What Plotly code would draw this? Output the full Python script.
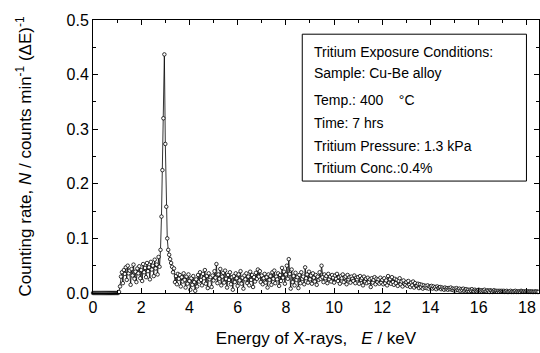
import numpy as np
import plotly.graph_objects as go

# Energy channel grid (keV), 0.04 keV per channel
E_STEP = 0.04

# Counting rate values, one row per keV (25 channels per row)
rate = [
    # 0.00 - 0.96
    0, 0, 0, 0, 0, 0, 0, 0, 0, 0, 0, 0, 0, 0, 0, 0, 0, 0, 0, 0, 0, 0, 0, 0, 0,
    # 1.00 - 1.96
    0, 0, 0.002, 0.012, 0.03, 0.038, 0.018, 0.042, 0.035, 0.047, 0.024, 0.05, 0.036, 0.041, 0.015, 0.044, 0.032, 0.052, 0.026, 0.039, 0.02, 0.045, 0.036, 0.049, 0.027,
    # 2.00 - 2.96
    0.042, 0.022, 0.053, 0.038, 0.046, 0.029, 0.055, 0.04, 0.047, 0.025, 0.057, 0.043, 0.05, 0.031, 0.061, 0.045, 0.052, 0.034, 0.066, 0.048, 0.079, 0.14, 0.225, 0.32, 0.437,
    # 3.00 - 3.96
    0.273, 0.158, 0.10, 0.079, 0.07, 0.062, 0.055, 0.048, 0.038, 0.045, 0.02, 0.031, 0.016, 0.035, 0.026, 0.033, 0.012, 0.029, 0.021, 0.036, 0.024, 0.01, 0.03, 0.017, 0.034,
    # 4.00 - 4.96
    0.022, 0.006, 0.027, 0.015, 0.031, 0.02, 0.004, 0.025, 0.012, 0.033, 0.021, 0.038, 0.024, 0.014, 0.035, 0.027, 0.042, 0.017, 0.031, 0.009, 0.036, 0.025, 0.029, 0.011, 0.032,
    # 5.00 - 5.96
    0.023, 0.04, 0.028, 0.053, 0.018, 0.034, 0.026, 0.044, 0.014, 0.03, 0.037, 0.019, 0.041, 0.026, 0.01, 0.033, 0.024, 0.038, 0.016, 0.029, 0.006, 0.031, 0.02, 0.036, 0.027,
    # 6.00 - 6.96
    0.013, 0.034, 0.023, 0.04, 0.017, 0.028, 0.008, 0.032, 0.025, 0.036, 0.018, 0.03, 0.014, 0.039, 0.024, 0.033, 0.011, 0.029, 0.021, 0.037, 0.026, 0.043, 0.03, 0.04, 0.02,
    # 7.00 - 7.96
    0.032, 0.016, 0.027, 0.035, 0.019, 0.029, 0.01, 0.034, 0.024, 0.031, 0.015, 0.038, 0.026, 0.041, 0.018, 0.03, 0.025, 0.036, 0.013, 0.033, 0.022, 0.046, 0.028, 0.039, 0.017,
    # 8.00 - 8.96
    0.034, 0.05, 0.026, 0.062, 0.035, 0.008, 0.043, 0.02, 0.031, 0.014, 0.037, 0.024, 0.029, 0.009, 0.033, 0.018, 0.038, 0.026, 0.03, 0.016, 0.047, 0.027, 0.034, 0.019, 0.039,
    # 9.00 - 9.96
    0.025, 0.032, 0.017, 0.036, 0.028, 0.021, 0.033, 0.015, 0.03, 0.024, 0.038, 0.026, 0.05, 0.029, 0.02, 0.034, 0.027, 0.031, 0.018, 0.035, 0.025, 0.03, 0.021, 0.033, 0.028,
    # 10.00 - 10.96
    0.019, 0.032, 0.026, 0.035, 0.022, 0.029, 0.017, 0.031, 0.027, 0.034, 0.02, 0.028, 0.03, 0.016, 0.033, 0.025, 0.029, 0.019, 0.03, 0.026, 0.022, 0.032, 0.018, 0.028, 0.025,
    # 11.00 - 11.96
    0.029, 0.017, 0.031, 0.024, 0.027, 0.014, 0.03, 0.021, 0.026, 0.018, 0.028, 0.02, 0.025, 0.011, 0.027, 0.019, 0.024, 0.029, 0.016, 0.026, 0.02, 0.025, 0.017, 0.028, 0.019,
    # 12.00 - 12.96
    0.024, 0.016, 0.027, 0.018, 0.023, 0.014, 0.031, 0.019, 0.025, 0.017, 0.029, 0.02, 0.015, 0.026, 0.018, 0.024, 0.013, 0.022, 0.027, 0.016, 0.021, 0.012, 0.023, 0.017, 0.015,
    # 13.00 - 13.96
    0.02, 0.013, 0.022, 0.015, 0.011, 0.019, 0.014, 0.021, 0.01, 0.018, 0.013, 0.014, 0.017, 0.009, 0.016, 0.011, 0.015, 0.008, 0.014, 0.01, 0.013, 0.009, 0.014, 0.008, 0.012,
    # 14.00 - 14.96
    0.011, 0.013, 0.008, 0.012, 0.009, 0.011, 0.007, 0.012, 0.009, 0.01, 0.011, 0.007, 0.01, 0.008, 0.006, 0.01, 0.007, 0.009, 0.006, 0.009, 0.007, 0.01, 0.006, 0.008, 0.005,
    # 15.00 - 15.96
    0.008, 0.005, 0.009, 0.006, 0.005, 0.008, 0.004, 0.007, 0.005, 0.008, 0.004, 0.006, 0.007, 0.004, 0.006, 0.003, 0.006, 0.004, 0.007, 0.004, 0.003, 0.006, 0.004, 0.003, 0.005,
    # 16.00 - 16.96
    0.006, 0.003, 0.005, 0.003, 0.005, 0.004, 0.006, 0.003, 0.003, 0.005, 0.004, 0.002, 0.005, 0.004, 0.002, 0.004, 0.005, 0.003, 0.004, 0.002, 0.004, 0.002, 0.004, 0.003, 0.004,
    # 17.00 - 17.96
    0.003, 0.004, 0.002, 0.003, 0.004, 0.002, 0.002, 0.003, 0.004, 0.002, 0.003, 0.002, 0.003, 0.004, 0.002, 0.003, 0.002, 0.003, 0.002, 0.004, 0.003, 0.002, 0.003, 0.002, 0.003,
    # 18.00 - 18.48
    0.002, 0.003, 0.002, 0.003, 0.002, 0.003, 0.002, 0.002, 0.003, 0.002, 0.003, 0.002, 0.002,
]
energy = np.arange(len(rate)) * E_STEP

x_ticks = [0, 2, 4, 6, 8, 10, 12, 14, 16, 18]
y_ticks = [0.0, 0.1, 0.2, 0.3, 0.4, 0.5]

box_lines = [
    "Tritium Exposure Conditions:",
    "Sample: Cu-Be alloy",
    "Temp.: 400 \u00a0 \u00a0\u00b0C",
    "Time: 7 hrs",
    "Tritium Pressure: 1.3 kPa",
    "Tritium Conc.:0.4%",
]
box_line_y = [0.441, 0.403, 0.354, 0.311, 0.269, 0.229]

FONT = "Liberation Sans, Arial, sans-serif"

fig = go.Figure()
fig.add_trace(go.Scatter(
    x=energy, y=rate, mode="lines+markers",
    line=dict(color="black", width=0.8),
    marker=dict(symbol="circle", size=3.5, color="white",
                line=dict(color="black", width=0.8)),
    showlegend=False, cliponaxis=False,
))

fig.add_shape(type="rect", xref="x", yref="y",
              x0=8.68, x1=17.98, y0=0.205, y1=0.474,
              line=dict(color="black", width=1), fillcolor="white", layer="above")

for t, yy in zip(box_lines, box_line_y):
    fig.add_annotation(x=9.09, y=yy, xref="x", yref="y", text=t,
                       showarrow=False, xanchor="left", yanchor="middle",
                       font=dict(family=FONT, size=14, color="black"))

axis_common = dict(
    showline=True, linecolor="black", linewidth=1, mirror="ticks",
    ticks="inside", ticklen=5, tickwidth=1, tickcolor="black",
    showgrid=False, zeroline=False,
    tickfont=dict(family=FONT, size=16, color="black"),
)

fig.update_xaxes(
    range=[0, 18.5], tickvals=x_ticks,
    minor=dict(ticks="inside", ticklen=3, dtick=1, tickcolor="black", showgrid=False),
    title=dict(text="Energy of X-rays, \u00a0 <i>E</i> / keV",
               font=dict(family=FONT, size=17, color="black"), standoff=16),
    **axis_common,
)
fig.update_yaxes(
    range=[0, 0.5], tickvals=y_ticks, tickformat=".1f",
    minor=dict(ticks="inside", ticklen=3, dtick=0.05, tickcolor="black", showgrid=False),
    title=dict(text="Counting rate, <i>N</i> / counts min<sup>-1</sup> (\u0394E)<sup>-1</sup>",
               font=dict(family=FONT, size=17, color="black"), standoff=30),
    **axis_common,
)

fig.update_layout(
    width=540, height=353,
    margin=dict(l=93, r=1, t=20, b=60),
    plot_bgcolor="white", paper_bgcolor="white",
    font=dict(family=FONT, color="black"),
)

fig.write_html("out.html")
